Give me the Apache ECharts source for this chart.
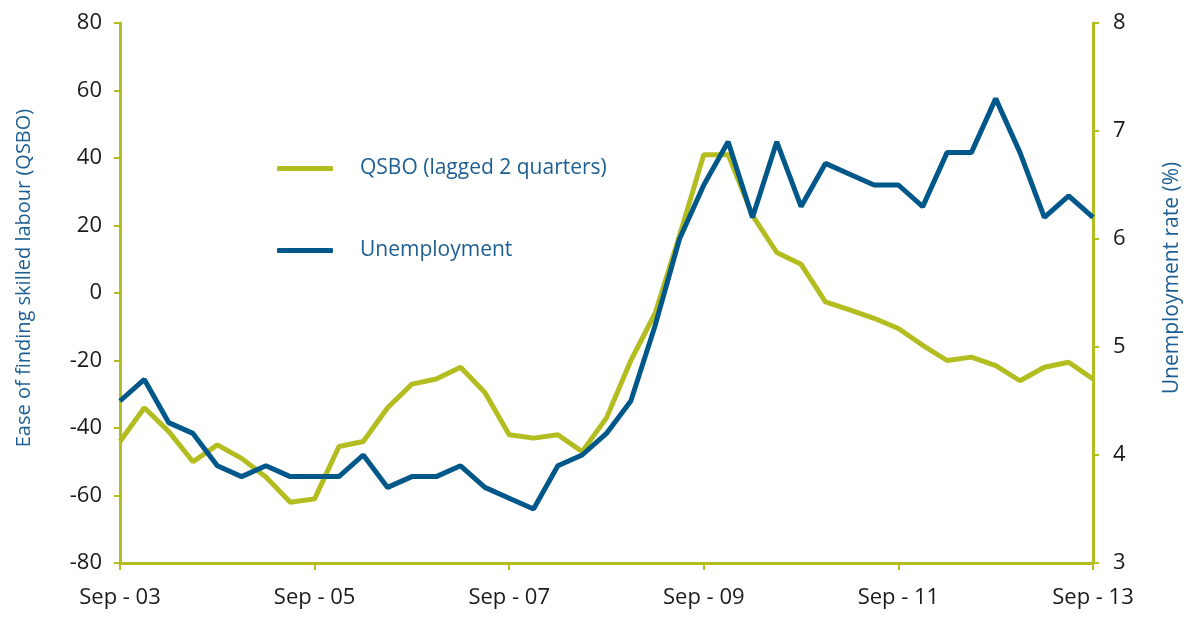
<!DOCTYPE html>
<html><head><meta charset="utf-8">
<script src="https://cdn.jsdelivr.net/npm/echarts@6/dist/echarts.min.js"></script>
<style>html,body{margin:0;padding:0;background:#fff}#c{width:1195px;height:622px}</style>
</head><body><div id="c"></div>
<script>
// Quarterly categories Sep-03 .. Sep-13
const quarters = ['Sep - 03','Dec - 03','Mar - 04','Jun - 04','Sep - 04','Dec - 04','Mar - 05','Jun - 05',
 'Sep - 05','Dec - 05','Mar - 06','Jun - 06','Sep - 06','Dec - 06','Mar - 07','Jun - 07',
 'Sep - 07','Dec - 07','Mar - 08','Jun - 08','Sep - 08','Dec - 08','Mar - 09','Jun - 09',
 'Sep - 09','Dec - 09','Mar - 10','Jun - 10','Sep - 10','Dec - 10','Mar - 11','Jun - 11',
 'Sep - 11','Dec - 11','Mar - 12','Jun - 12','Sep - 12','Dec - 12','Mar - 13','Jun - 13','Sep - 13'];
// QSBO, ease of finding skilled labour (lagged 2 quarters), left axis
const qsbo = [-44,-34,-41,-50,-45,-49,-54.5,-62,-61,-45.5,-44,-34,-27,-25.5,-22,-29.5,
 -42,-43,-42,-47,-37,-20,-6,17,41,41,23,12,8.5,-2.6,-5,-7.5,
 -10.5,-15.5,-20,-19,-21.5,-26,-22,-20.5,-25.5];
// Unemployment rate (%), right axis
const unemployment = [4.5,4.7,4.3,4.2,3.9,3.8,3.9,3.8,3.8,3.8,4.0,3.7,3.8,3.8,3.9,3.7,
 3.6,3.5,3.9,4.0,4.2,4.5,5.2,6.0,6.5,6.9,6.2,6.9,6.3,6.7,6.6,6.5,
 6.5,6.3,6.8,6.8,7.3,6.8,6.2,6.4,6.2];
const leftTicks = {min:-80,max:80,interval:20};
const rightTicks = {min:3,max:8,interval:1};

const green = '#b3bd1f', blue = '#00578a', textBlue = '#1d5f92', font = 'Open Sans';
const chart = echarts.init(document.getElementById('c'));
chart.setOption({
  animation:false,
  textStyle:{fontFamily:font},
  grid:{left:120,right:102,top:23,bottom:59},
  legend:{
    orient:'vertical',left:277,top:158,padding:0,itemWidth:56,itemHeight:5,itemGap:61,
    icon:'roundRect',
    textStyle:{fontFamily:font,fontSize:21,color:textBlue,padding:[0,0,0,22]},
    data:['QSBO (lagged 2 quarters)','Unemployment']
  },
  xAxis:{
    type:'category',data:quarters,boundaryGap:false,
    axisLine:{onZero:false,lineStyle:{color:green,width:3}},
    axisTick:{interval:7,length:7,lineStyle:{color:green,width:2}},
    axisLabel:{interval:7,color:'#1a1a1a',fontSize:22,margin:24,fontFamily:font},
    splitLine:{show:false}
  },
  yAxis:[{
    type:'value',min:leftTicks.min,max:leftTicks.max,interval:leftTicks.interval,position:'left',
    name:'Ease of finding skilled labour (QSBO)',nameLocation:'middle',nameGap:86,
    nameTextStyle:{color:textBlue,fontSize:20,fontFamily:font,padding:[0,0,0,30]},
    axisLine:{show:true,onZero:false,lineStyle:{color:green,width:3}},
    axisTick:{show:true,length:6,lineStyle:{color:green,width:2}},
    axisLabel:{color:'#1a1a1a',fontSize:22,margin:18,fontFamily:font},
    splitLine:{show:false}
  },{
    type:'value',min:rightTicks.min,max:rightTicks.max,interval:rightTicks.interval,position:'right',
    name:'Unemployment rate (%)',nameLocation:'middle',nameGap:69,nameRotate:90,
    nameTextStyle:{color:textBlue,fontSize:21,fontFamily:font,padding:[0,0,0,30]},
    axisLine:{show:true,onZero:false,lineStyle:{color:green,width:3}},
    axisTick:{show:true,length:6,lineStyle:{color:green,width:2}},
    axisLabel:{color:'#1a1a1a',fontSize:22,margin:20,fontFamily:font},
    splitLine:{show:false}
  }],
  series:[{
    name:'QSBO (lagged 2 quarters)',type:'line',yAxisIndex:0,data:qsbo,
    symbol:'none',lineStyle:{color:green,width:5},itemStyle:{color:green}
  },{
    name:'Unemployment',type:'line',yAxisIndex:1,data:unemployment,
    symbol:'none',lineStyle:{color:blue,width:5},itemStyle:{color:blue}
  }]
});
</script></body></html>
